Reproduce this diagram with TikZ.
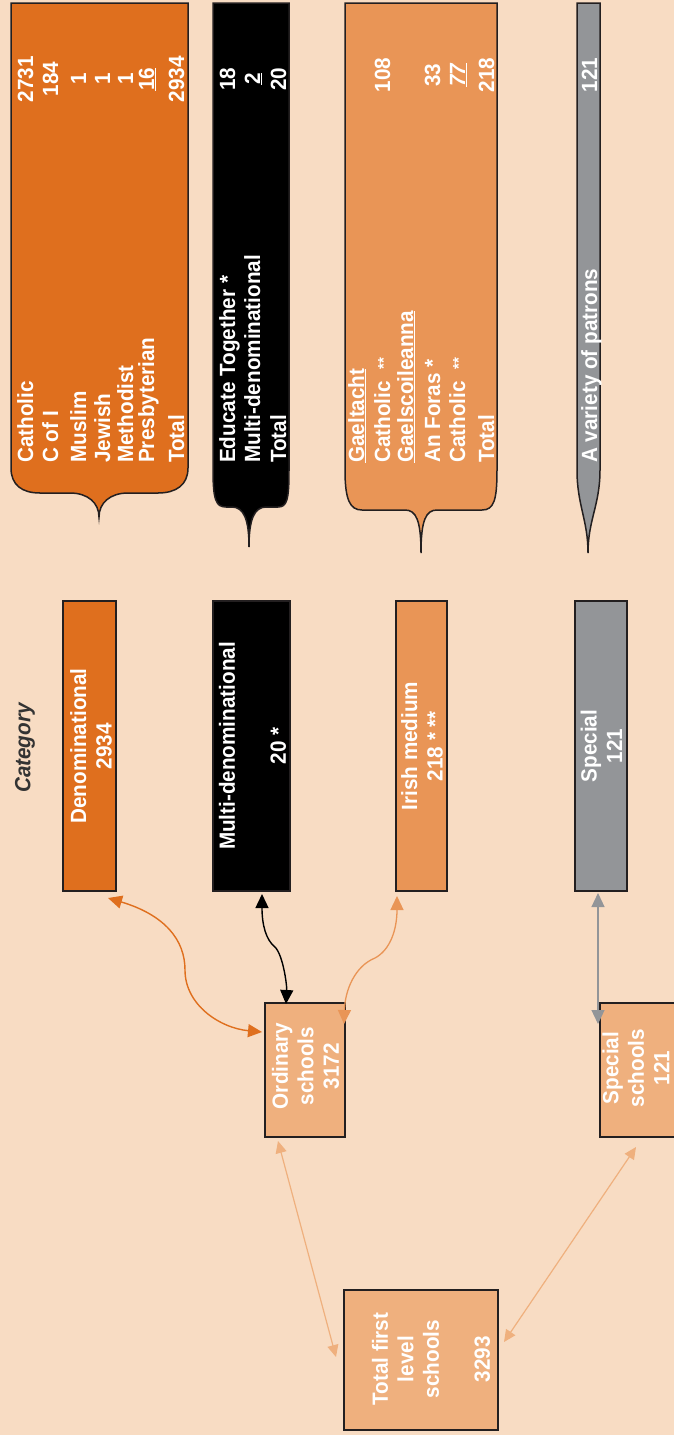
\documentclass[tikz,border=0pt]{standalone}
\usepackage{fontspec}
\setmainfont{Liberation Sans}
\usetikzlibrary{arrows.meta}

\definecolor{bgpeach}{HTML}{F8DCC3}
\definecolor{denom}{HTML}{DF6F1E}
\definecolor{irish}{HTML}{E99556}
\definecolor{peach}{HTML}{EFB07E}
\definecolor{spgray}{HTML}{939598}
\definecolor{edge}{HTML}{231F20}
\definecolor{catgray}{HTML}{333333}

\newcommand{\twostar}{{\fontsize{16}{16}\selectfont\raisebox{1pt}{**}}}

\tikzset{
  box/.style={draw=edge, line width=2pt, inner sep=0pt},
  vtext/.style={rotate=90, xscale=.94, text=white, inner sep=0pt, align=center,
    font=\fontsize{22}{25.5}\selectfont\bfseries},
  rowlab/.style={vtext, anchor=base west},
  rownum/.style={vtext, anchor=base},
  link/.style={<->, >={Triangle[length=14pt,width=13pt]}, line width=1.4pt},
  thinlink/.style={<->, >={Triangle[length=12pt,width=11pt]}, line width=1.2pt, peach}
}

\begin{document}
\begin{tikzpicture}[x=1pt, y=-1pt]
    \useasboundingbox (0,0) rectangle (674,1435);
    \fill[bgpeach] (0,0) rectangle (674,1435);
    \clip (0,0) rectangle (674,1435);

    % detail boxes with braces
    \filldraw[fill=denom, draw=edge, line width=1.5pt] (11,3) -- (11,468) .. controls (11,485) and (22,493) .. (40,493) -- (70,493) .. controls (88,493) and (99,503) .. (99,517) .. controls (99,503) and (110,493) .. (128,493) -- (158,493) .. controls (176,493) and (188,485) .. (188,468) -- (188,3) -- cycle;
    \filldraw[fill=black, draw=edge, line width=1.5pt] (213,3) -- (213,470) .. controls (213,500) and (216,507) .. (226,507) -- (232,507) .. controls (244,507) and (249,520) .. (249,547) .. controls (249,520) and (254,507) .. (266,507) -- (278,507) .. controls (287,507) and (289,500) .. (289,470) -- (289,3) -- cycle;
    \filldraw[fill=irish, draw=edge, line width=1.5pt] (345,3) -- (345,470) .. controls (345,500) and (350,510) .. (362,510) -- (405,510) .. controls (416,510) and (421,520) .. (421,553) .. controls (421,520) and (426,510) .. (437,510) -- (482,510) .. controls (494,510) and (497,500) .. (497,470) -- (497,3) -- cycle;
    \filldraw[fill=spgray, draw=edge, line width=1.5pt] (577,3) -- (577,470) .. controls (577,505) and (588,520) .. (588,553) .. controls (588,520) and (600,505) .. (600,470) -- (600,3) -- cycle;

    \foreach \b/\lab/\num in {33/Catholic/2731, 58/C of I/184, 86/Muslim/1, 110/Jewish/1, 133/Methodist/1, 154/Presbyterian/\underline{16}, 184/Total/2934}{
        \node[rowlab] (dlab-\b) at (\b,463) {\lab};
        \node[rownum] (dnum-\b) at (\b,79) {\num};
    }
    \foreach \b/\lab/\num in {235/Educate Together */18, 260/Multi-denominational/\underline{2}, 286/Total/20}{
        \node[rowlab] (mlab-\b) at (\b,463) {\lab};
        \node[rownum] (mnum-\b) at (\b,79) {\num};
    }
    \foreach \b/\lab in {364/\underline{Gaeltacht}, 390/Catholic~~\twostar, 413/\underline{Gaelscoileanna}, 440/An Foras *, 465/Catholic~~\twostar, 494/Total}
        \node[rowlab] (ilab-\b) at (\b,463) {\lab};
    \foreach \b/\num in {390/108, 440/33, 465/\underline{\textit{77}}, 494/218}
        \node[rownum] (inum-\b) at (\b,75) {\num};
    \node[rowlab] (vlab) at (597,463) {A variety of patrons};
    \node[rownum] (vnum) at (597,75) {121};

    % category boxes
    \node[rotate=90, xscale=.94, text=catgray, font=\fontsize{22}{26}\selectfont\bfseries\itshape] (cat) at (25,748) {Category};
    \node[box, fill=denom, minimum width=53pt, minimum height=290pt] (den) at (89.5,746) {};
    \node[box, fill=black, minimum width=77pt, minimum height=290pt] (mult) at (251.5,746) {};
    \node[box, fill=irish, minimum width=51pt, minimum height=290pt] (irish) at (421.5,746) {};
    \node[box, fill=spgray, minimum width=52pt, minimum height=290pt] (spec) at (601,746) {};

    \node[box, fill=peach, minimum width=80pt, minimum height=134pt] (ord) at (305,1070) {};
    \node[box, fill=peach, minimum width=83pt, minimum height=134pt] (sps) at (641.5,1070) {};
    \node[box, fill=peach, minimum width=154pt, minimum height=140pt] (tot) at (421,1360) {};

    % connectors
    \draw[link, denom] ([shift={(-9,6)}]den.south east) .. controls (165,915) and (185,940) .. (185,970) .. controls (185,1005) and (220,1028) .. ([shift={(-2,30)}]ord.north west);
    \draw[link, black] ([shift={(10.5,2)}]mult.south) .. controls (262,925) and (266,940) .. (275,947) .. controls (283,955) and (287,985) .. ([shift={(22,2)}]ord.north west);
    \draw[link, irish, line width=1.3pt] ([shift={(2,4)}]irish.south west) .. controls (397,930) and (390,950) .. (375,958) .. controls (355,966) and (345,990) .. ([shift={(-2,22)}]ord.north east);
    \draw[link, spgray, line width=1.2pt] ([shift={(-3,1)}]spec.south) -- ([shift={(-1,22)}]sps.north west);
    \draw[thinlink] ([shift={(14,3)}]ord.south west) -- ([shift={(-7,-3)}]tot.west);
    \draw[thinlink] ([shift={(37,9)}]sps.south west) -- ([shift={(5,-18)}]tot.east);

    % box texts
    \node[vtext] (den-t) at (91,746) {Denominational\\2934};
    \node[vtext] (mult-t) at (252.5,746) {Multi-denominational\\[25.5pt]20 *};
    \node[vtext] (irish-t) at (422,746) {Irish medium\\218 * **};
    \node[vtext] (spec-t) at (601.5,746) {Special\\121};
    \node[vtext] (ord-t) at (305.5,1066) {Ordinary\\schools\\3172};
    \node[vtext] (sps-t) at (636,1068) {Special\\schools\\121};
    \node[vtext] (tot-t) at (431,1359) {Total first\\level\\schools\\[25.5pt]3293};
\end{tikzpicture}
\end{document}
